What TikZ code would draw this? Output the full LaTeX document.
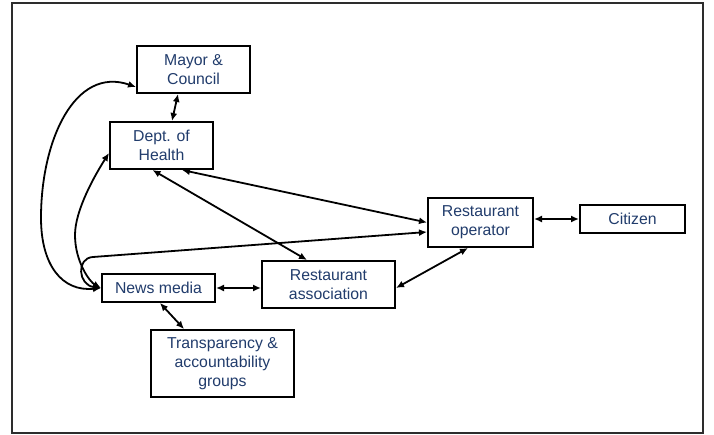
\documentclass[tikz,border=0pt]{standalone}
\usepackage{fontspec}
\setmainfont{Liberation Sans}
\usetikzlibrary{arrows.meta}
\definecolor{labelblue}{RGB}{33,60,108}
\definecolor{framegray}{RGB}{45,45,45}
\begin{document}
\begin{tikzpicture}[x=1pt,y=-1pt,
  actor/.style={draw=black, line width=2pt, fill=white, inner sep=0pt, align=center,
    text=labelblue, font=\fontsize{15.8}{19.3}\selectfont},
  link/.style={line width=1.8pt, {Latex[length=8pt,width=7pt]}-{Latex[length=8pt,width=7pt]}}
]
\useasboundingbox (0,0) rectangle (714,435);
\draw[framegray, line width=2pt] (12,3) rectangle (703,433);

\node[actor, minimum width=113pt, minimum height=47pt] (mayor) at (193.5,69.5) {Mayor \&\\Council};
\node[actor, minimum width=103pt, minimum height=47pt] (dept) at (161.5,145.5) {Dept. of\\Health};
\node[actor, minimum width=105pt, minimum height=49pt] (restop) at (480.5,222.5) {Restaurant\\operator};
\node[actor, minimum width=105pt, minimum height=28pt] (citizen) at (632.5,219) {Citizen};
\node[actor, minimum width=113pt, minimum height=28pt] (news) at (158.5,288) {News media};
\node[actor, minimum width=133pt, minimum height=47pt] (assoc) at (328.5,284.5) {Restaurant\\association};
\node[actor, minimum width=143pt, minimum height=67pt] (transp) at (222.5,363.5) {Transparency \&\\accountability\\groups};

% straight links
\draw[link] ([xshift=-15.5pt]mayor.south) -- ([xshift=10.5pt]dept.north);
\draw[link] ([xshift=20.5pt]dept.south) -- (restop.west);
\draw[link] ([xshift=-9pt]dept.south) -- ([xshift=-21.5pt]assoc.north);
\draw[link] (news.east) -- (news.east -| assoc.west);
\draw[link] ([xshift=1.5pt]news.south) -- ([xshift=-38.5pt]transp.north);
\draw[link] ([xshift=-12.5pt]restop.south) -- ([yshift=-3.5pt]assoc.east);
\draw[link] (citizen.west -| restop.east) -- (citizen.west);

% curved links that meet at the news desk
\coordinate (outerbend) at (41,218);
\coordinate (innerbend) at (75,235);
\coordinate (hook) at (93,257);
\draw[link] (news.west) .. controls (62,292) and (41,265) .. (outerbend)
  .. controls (41,140) and (75,66) .. ([yshift=-17.5pt]mayor.west);
\draw[link] (news.west) .. controls (90,282) and (75,262) .. (innerbend)
  .. controls (75,210) and (95,175) .. ([yshift=-7.5pt]dept.west);
\draw[link] (news.west) .. controls (78,285) and (76,258) .. (hook)
  -- ([yshift=-9.5pt]restop.west);
\end{tikzpicture}
\end{document}
